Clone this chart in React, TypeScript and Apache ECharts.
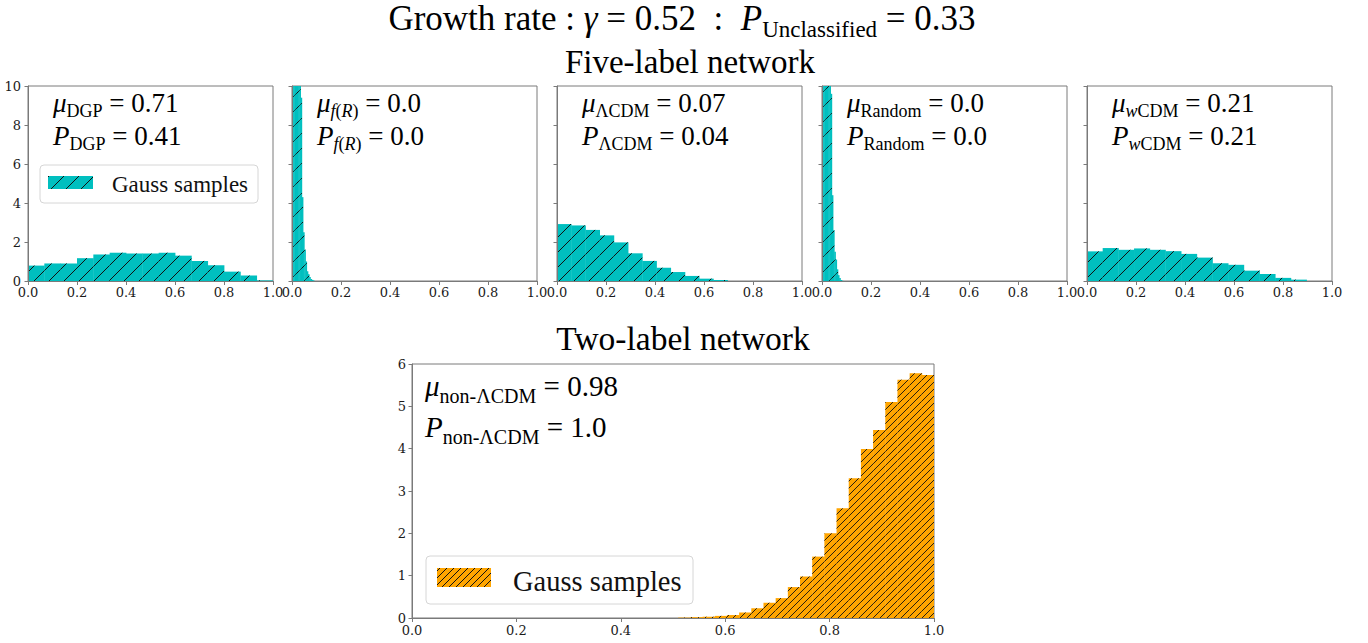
import { useEffect, useRef } from 'react';
import * as echarts from 'echarts';

// ---------------- data ----------------
// Five-label network histograms (bin start, bin width, heights)
const dgpStart = 0;
const dgpWidth = 1 / 15;
const dgpValues = [0.79, 0.9, 0.9, 1.17, 1.36, 1.45, 1.41, 1.41, 1.45, 1.3, 1.03, 0.81, 0.48, 0.28, 0.03];

const frStart = 0;
const frWidth = 0.005;
const frValues = [14, 13.5, 13, 12.5, 12, 11.5, 10.8, 9.4, 4.3, 2.5, 1.6, 1.0, 0.5, 0.35, 0.2, 0.1, 0.06, 0.03];

const lcdmStart = 0;
const lcdmWidth = 0.058;
const lcdmValues = [2.92, 2.85, 2.62, 2.34, 1.98, 1.42, 1.03, 0.68, 0.46, 0.26, 0.12, 0.05];

const randStart = 0;
const randWidth = 0.005;
const randValues = [14, 13.5, 13, 12.5, 12, 11.5, 10.6, 9.6, 4.4, 2.6, 1.5, 1.1, 0.6, 0.3, 0.15, 0.05, 0.02];

const wcdmStart = 0;
const wcdmWidth = 0.064;
const wcdmValues = [1.52, 1.69, 1.6, 1.67, 1.6, 1.53, 1.39, 1.2, 0.91, 0.83, 0.53, 0.36, 0.16, 0.07];

// Two-label network histogram
const nonStart = 0.51;
const nonWidth = 0.49 / 21;
const nonValues = [0.01, 0.02, 0.03, 0.05, 0.07, 0.13, 0.23, 0.36, 0.47, 0.73, 0.98, 1.45, 2.0, 2.59, 3.3, 3.99, 4.44, 5.1, 5.63, 5.78, 5.74];

const topStarts = [dgpStart, frStart, lcdmStart, randStart, wcdmStart];
const topWidths = [dgpWidth, frWidth, lcdmWidth, randWidth, wcdmWidth];
const topValues = [dgpValues, frValues, lcdmValues, randValues, wcdmValues];

// annotations
const topSubRich = ['{sub|DGP}', '{subi|f}{sub|(}{subi|R}{sub|)}', '{sub|ΛCDM}', '{sub|Random}', '{subi|w}{sub|CDM}'];
const topMu = ['0.71', '0.0', '0.07', '0.0', '0.21'];
const topP = ['0.41', '0.0', '0.04', '0.0', '0.21'];
const bottomSubRich = '{sub|non-ΛCDM}';
const bottomMu = '0.98';
const bottomP = '1.0';

const titleGamma = '0.52';
const titleUnclassified = '0.33';
const subtitleTop = 'Five-label network';
const subtitleBottom = 'Two-label network';
const legendLabel = 'Gauss samples';

const xTicks = { min: 0, max: 1, interval: 0.2 };
const topY = { min: 0, max: 10, interval: 2 };
const bottomY = { min: 0, max: 6, interval: 1 };

// ---------------- style / layout ----------------
const CYAN = '#00BFBF';
const ORANGE = '#FFA500';
const SPINE = '#7a7a7a';
const HATCH = '#111';
const SERIF = "'Liberation Serif', 'Times New Roman', serif";
const TICKFONT = "'DejaVu Serif', serif";

const PANEL_LEFTS = [28, 292, 557, 822, 1087];
const PANEL_TOP = 86;
const PANEL_W = 245;
const PANEL_H = 195;
const BOT = { left: 412, top: 364, width: 522, height: 254 };

function hatchSegments(x0: number, y0: number, x1: number, y1: number, s: number) {
  const segs: number[][] = [];
  const cMin = x0 + y0;
  const cMax = x1 + y1;
  for (let k = Math.ceil(cMin / s); k * s <= cMax; k++) {
    const c = k * s;
    const lo = Math.max(x0, c - y1);
    const hi = Math.min(x1, c - y0);
    if (hi > lo + 0.2) segs.push([lo, c - lo, hi, c - hi]);
  }
  return segs;
}

function makeRender(ymax: number, color: string, spacing: number, lw: number) {
  return (_params: any, api: any) => {
    const x0 = api.value(0);
    const x1 = api.value(1);
    const h = Math.min(api.value(2), ymax);
    const pA = api.coord([x0, 0]);
    const pB = api.coord([x1, h]);
    const left = pA[0];
    const right = pB[0];
    const top = pB[1];
    const bottom = pA[1];
    const children: any[] = [
      {
        type: 'rect',
        shape: { x: left, y: top, width: right - left + 0.4, height: bottom - top },
        style: { fill: color, stroke: null },
      },
    ];
    for (const [ax, ay, bx, by] of hatchSegments(left, top, right, bottom, spacing)) {
      children.push({
        type: 'line',
        shape: { x1: ax, y1: ay, x2: bx, y2: by },
        style: { stroke: HATCH, lineWidth: lw },
      });
    }
    return { type: 'group', children };
  };
}

function binData(start: number, width: number, values: number[]) {
  return values.map((v, i) => [start + i * width, start + (i + 1) * width, v]);
}

function mathText(x: number, yBase: number, text: string, F: number, Fs: number, d: number, align = 'left') {
  const P = 0.84 * F + d - 0.84 * Fs;
  const base = { fontFamily: SERIF, fill: '#000', verticalAlign: 'top' };
  return {
    type: 'text',
    x,
    y: yBase - 0.84 * F,
    z: 100,
    silent: true,
    style: {
      text,
      align,
      verticalAlign: 'top',
      fontFamily: SERIF,
      fontSize: F,
      fill: '#000',
      rich: {
        rm: { ...base, fontSize: F, lineHeight: F },
        mi: { ...base, fontSize: F, lineHeight: F, fontStyle: 'italic' },
        sub: { ...base, fontSize: Fs, lineHeight: Fs, padding: [P, 0, 0, 0] },
        subi: { ...base, fontSize: Fs, lineHeight: Fs, padding: [P, 0, 0, 0], fontStyle: 'italic' },
      },
    },
  };
}

function legend(box: number[], patch: number[], textX: number, textY: number, F: number, color: string, spacing: number) {
  const els: any[] = [];
  els.push({
    type: 'rect',
    z: 90,
    silent: true,
    shape: { x: box[0], y: box[1], width: box[2], height: box[3], r: 4 },
    style: { fill: 'rgba(255,255,255,0.85)', stroke: '#d6d6d6', lineWidth: 1 },
  });
  els.push({
    type: 'rect',
    z: 91,
    silent: true,
    shape: { x: patch[0], y: patch[1], width: patch[2], height: patch[3] },
    style: { fill: color, stroke: null },
  });
  for (const [ax, ay, bx, by] of hatchSegments(patch[0], patch[1], patch[0] + patch[2], patch[1] + patch[3], spacing)) {
    els.push({
      type: 'line',
      z: 92,
      silent: true,
      shape: { x1: ax, y1: ay, x2: bx, y2: by },
      style: { stroke: HATCH, lineWidth: 1 },
    });
  }
  els.push({
    type: 'text',
    z: 92,
    silent: true,
    x: textX,
    y: textY,
    style: { text: legendLabel, fontFamily: SERIF, fontSize: F, fill: '#111', align: 'left', verticalAlign: 'middle' },
  });
  return els;
}

function xAxisFor(gridIndex: number, margin: number) {
  return {
    type: 'value',
    gridIndex,
    min: xTicks.min,
    max: xTicks.max,
    interval: xTicks.interval,
    z: 5,
    axisLine: { show: true, lineStyle: { color: SPINE, width: 1 } },
    axisTick: { show: true, length: 4, lineStyle: { color: SPINE, width: 1 } },
    axisLabel: {
      show: true,
      formatter: (v: number) => v.toFixed(1),
      fontFamily: TICKFONT,
      fontSize: 13,
      color: '#1a1a1a',
      margin,
      showMinLabel: true,
      showMaxLabel: true,
    },
    splitLine: { show: false },
  };
}

function yAxisFor(gridIndex: number, r: { min: number; max: number; interval: number }, showLabel: boolean, margin: number) {
  return {
    type: 'value',
    gridIndex,
    min: r.min,
    max: r.max,
    interval: r.interval,
    z: 5,
    axisLine: { show: true, lineStyle: { color: SPINE, width: 1 } },
    axisTick: { show: true, length: 3.5, lineStyle: { color: SPINE, width: 1 } },
    axisLabel: {
      show: showLabel,
      fontFamily: TICKFONT,
      fontSize: 13,
      color: '#1a1a1a',
      margin,
      showMinLabel: true,
      showMaxLabel: true,
    },
    splitLine: { show: false },
  };
}

function buildOption() {
  const grid: any[] = [];
  const xAxis: any[] = [];
  const yAxis: any[] = [];
  const series: any[] = [];
  for (let i = 0; i < 5; i++) {
    grid.push({
      left: PANEL_LEFTS[i],
      top: PANEL_TOP,
      width: PANEL_W,
      height: PANEL_H,
      show: true,
      borderColor: SPINE,
      borderWidth: 1,
      backgroundColor: 'transparent',
    });
    xAxis.push(xAxisFor(i, 5));
    yAxis.push(yAxisFor(i, topY, i === 0, 7));
    series.push({
      type: 'custom',
      xAxisIndex: i,
      yAxisIndex: i,
      z: 2,
      silent: true,
      clip: true,
      renderItem: makeRender(topY.max, CYAN, 15, 1),
      dimensions: ['x0', 'x1', 'h'],
      encode: { x: [0, 1], y: 2 },
      data: binData(topStarts[i], topWidths[i], topValues[i]),
    });
  }
  grid.push({ ...BOT, show: true, borderColor: SPINE, borderWidth: 1, backgroundColor: 'transparent' });
  xAxis.push(xAxisFor(5, 6));
  yAxis.push(yAxisFor(5, bottomY, true, 6));
  series.push({
    type: 'custom',
    xAxisIndex: 5,
    yAxisIndex: 5,
    z: 2,
    silent: true,
    clip: true,
    renderItem: makeRender(bottomY.max, ORANGE, 7, 0.9),
    dimensions: ['x0', 'x1', 'h'],
    encode: { x: [0, 1], y: 2 },
    data: binData(nonStart, nonWidth, nonValues),
  });

  const graphic: any[] = [];
  graphic.push(
    mathText(
      682,
      30,
      `{rm|Growth rate : }{mi|γ}{rm| = ${titleGamma}  :  }{mi|P}{sub|Unclassified}{rm| = ${titleUnclassified}}`,
      35,
      23,
      7,
      'center'
    )
  );
  graphic.push(mathText(690, 73, `{rm|${subtitleTop}}`, 33, 22, 6, 'center'));
  graphic.push(mathText(683, 350, `{rm|${subtitleBottom}}`, 33.5, 22, 6, 'center'));

  for (let i = 0; i < 5; i++) {
    const x = PANEL_LEFTS[i] + 25;
    graphic.push(mathText(x, 112, `{mi|μ}${topSubRich[i]}{rm| = ${topMu[i]}}`, 27, 18, 5.5));
    graphic.push(mathText(x, 145, `{mi|P}${topSubRich[i]}{rm| = ${topP[i]}}`, 27, 18, 5.5));
  }
  graphic.push(mathText(425, 396, `{mi|μ}${bottomSubRich}{rm| = ${bottomMu}}`, 29, 20, 6.5));
  graphic.push(mathText(425, 437, `{mi|P}${bottomSubRich}{rm| = ${bottomP}}`, 29, 20, 6.5));

  graphic.push(...legend([40, 165, 218, 38], [48, 176, 45, 13], 112, 184, 23, CYAN, 15));
  graphic.push(...legend([426, 556, 267, 48], [437, 568, 54, 19], 513, 581, 28.5, ORANGE, 7));

  return {
    animation: false,
    backgroundColor: '#fff',
    grid,
    xAxis,
    yAxis,
    series,
    graphic,
  };
}

export default function App() {
  const ref = useRef<HTMLDivElement>(null);
  useEffect(() => {
    const chart = echarts.init(ref.current as HTMLDivElement, null, { renderer: 'svg' });
    chart.setOption(buildOption() as any);
    return () => chart.dispose();
  }, []);
  return (
    <div
      ref={ref}
      style={{ position: 'absolute', left: 0, top: 0, width: 1368, height: 643, background: '#fff' }}
    />
  );
}
